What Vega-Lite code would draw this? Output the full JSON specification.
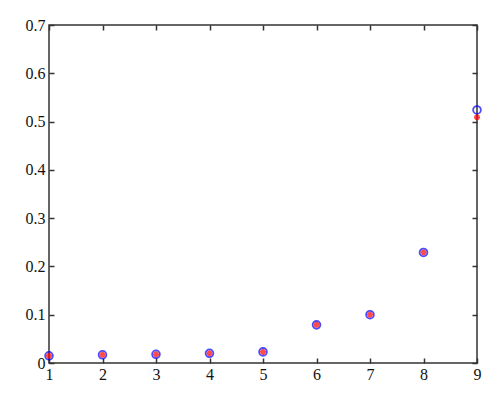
{
  "$schema": "https://vega.github.io/schema/vega-lite/v6.json",
  "width": 428,
  "height": 338,
  "autosize": {"type": "none"},
  "padding": {"left": 49, "top": 25, "right": 23, "bottom": 38},
  "background": "white",
  "config": {
    "view": {"stroke": "#333333", "strokeWidth": 1.5},
    "axis": {
      "grid": false,
      "domain": false,
      "tickColor": "#333333",
      "tickSize": -5,
      "tickWidth": 1.5,
      "labelFont": "Liberation Serif, DejaVu Serif, serif",
      "labelFontSize": 16,
      "labelColor": "#111111",
      "title": null
    }
  },
  "data": {
    "values": [
      {"x": 1, "circle": 0.015, "star": 0.015},
      {"x": 2, "circle": 0.017, "star": 0.017},
      {"x": 3, "circle": 0.018, "star": 0.018},
      {"x": 4, "circle": 0.020, "star": 0.020},
      {"x": 5, "circle": 0.023, "star": 0.023},
      {"x": 6, "circle": 0.079, "star": 0.079},
      {"x": 7, "circle": 0.100, "star": 0.100},
      {"x": 8, "circle": 0.229, "star": 0.229},
      {"x": 9, "circle": 0.524, "star": 0.509}
    ]
  },
  "layer": [
    {
      "mark": {"type": "point", "shape": "circle", "filled": false, "stroke": "#0000ff", "strokeWidth": 1.8, "size": 60, "clip": false},
      "encoding": {
        "x": {"field": "x", "type": "quantitative", "scale": {"domain": [1, 9], "nice": false, "zero": false},
              "axis": {"orient": "bottom", "values": [1,2,3,4,5,6,7,8,9], "labelPadding": 8, "labelFlush": false}},
        "y": {"field": "circle", "type": "quantitative", "scale": {"domain": [0, 0.7], "nice": false},
              "axis": {"orient": "left", "values": [0,0.1,0.2,0.3,0.4,0.5,0.6,0.7], "format": "~g", "labelPadding": 9, "labelFlush": false}}
      }
    },
    {
      "mark": {"type": "point", "shape": "M-1,0L1,0M0,-1L0,1M-0.7,-0.7L0.7,0.7M-0.7,0.7L0.7,-0.7", "filled": false, "stroke": "#ff0000", "strokeWidth": 1.8, "size": 36, "clip": false},
      "encoding": {
        "x": {"field": "x", "type": "quantitative", "scale": {"domain": [1, 9], "nice": false, "zero": false},
              "axis": {"orient": "top", "values": [1,2,3,4,5,6,7,8,9], "labels": false}},
        "y": {"field": "star", "type": "quantitative", "scale": {"domain": [0, 0.7], "nice": false},
              "axis": {"orient": "right", "values": [0,0.1,0.2,0.3,0.4,0.5,0.6,0.7], "labels": false}}
      }
    }
  ],
  "resolve": {"axis": {"x": "independent", "y": "independent"}}
}
